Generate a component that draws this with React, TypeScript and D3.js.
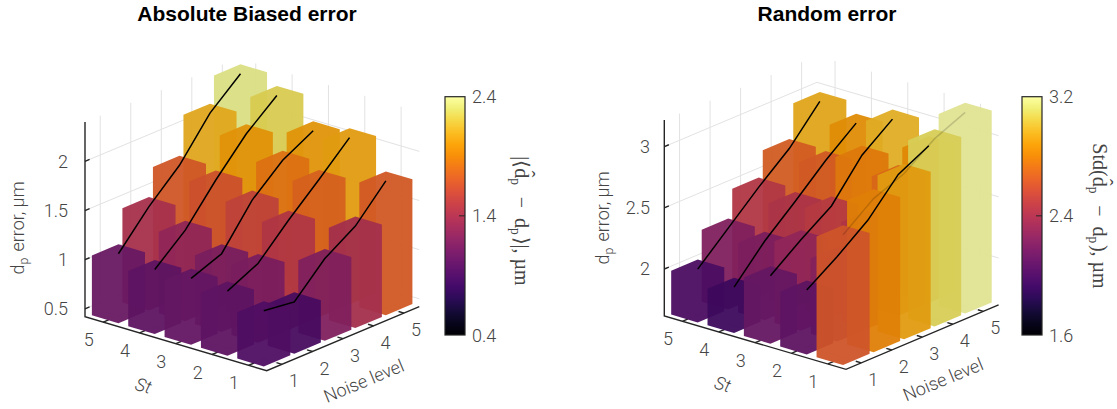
import React from "react";
import * as d3 from "d3";

const stLevels = [1, 2, 3, 4, 5];
const noiseLevels = [1, 2, 3, 4, 5];

// rows: St 1..5, columns: noise 1..5
const biasedSt1 = [0.91, 0.87, 1.18, 1.38, 1.71];
const biasedSt2 = [1.0, 1.15, 1.46, 1.745, 2.04];
const biasedSt3 = [1.02, 1.14, 1.555, 1.83, 2.0];
const biasedSt4 = [1.0, 1.27, 1.65, 1.99, 2.25];
const biasedSt5 = [1.05, 1.4, 1.69, 2.09, 2.36];

const randomSt1 = [2.62, 2.81, 2.91, 3.09, 3.2];
const randomSt2 = [2.08, 2.25, 2.44, 2.71, 2.84];
const randomSt3 = [2.11, 2.3, 2.47, 2.78, 2.97];
const randomSt4 = [1.93, 2.2, 2.42, 2.65, 2.85];
const randomSt5 = [1.99, 2.22, 2.45, 2.66, 2.94];

const biasedZTicks = [0.5, 1, 1.5, 2];
const randomZTicks = [2, 2.5, 3];

const INK = "#454545";
const SANS = "'Liberation Sans', Arial, sans-serif";
const LIGHT = "Roboto, 'Liberation Sans', sans-serif";
const SERIF = "'Liberation Serif', serif";
const line2 = d3.line<[number, number]>();

type Cfg = {
  title: string;
  titleX: number;
  rows: number[][];
  corner: [number, number];
  sDy: number;
  nDy: number;
  zPx: number;
  zMin: number;
  zMax: number;
  zBase: number;
  zTicks: number[];
  clim: [number, number];
  climLabels: string[];
  barX: number;
  zLabelX: number;
  zLabelY: number;
  zTickX: number;
  cbLabel: React.ReactNode;
  fadedSt?: number;
};

function Sub({ children, dyUp = 4 }: { children: string; dyUp?: number }) {
  return (
    <>
      <tspan dy={dyUp} fontSize="0.68em">{children}</tspan>
      <tspan dy={-dyUp}>{"\u200a"}</tspan>
    </>
  );
}

function Panel({ cfg }: { cfg: Cfg }) {
  const { corner, zBase } = cfg;
  const xS = d3.scaleLinear().domain([0.5, 5.5]).range([0, -181.7]);
  const xN = d3.scaleLinear().domain([0.5, 5.5]).range([0, 152.6]);
  const yS = d3.scaleLinear().domain([0.5, 5.5]).range([0, -5 * cfg.sDy]);
  const yN = d3.scaleLinear().domain([0.5, 5.5]).range([0, -5 * cfg.nDy]);
  const yZ = d3.scaleLinear().domain([cfg.zMin, cfg.zMax]).range([0, -(cfg.zMax - cfg.zMin) * cfg.zPx]);
  const P = (n: number, s: number, z: number): [number, number] => [
    corner[0] + xN(n) + xS(s),
    corner[1] + yN(n) + yS(s) + yZ(z),
  ];
  const color = d3.scaleSequential(d3.interpolateInferno).domain(cfg.clim);
  const wS = 0.73 / 2;
  const wN = 0.87 / 2;

  const cells: { s: number; n: number; v: number }[] = [];
  [...stLevels].reverse().forEach((s) => {
    [...noiseLevels].reverse().forEach((n) => {
      cells.push({ s, n, v: cfg.rows[s - 1][n - 1] });
    });
  });

  const shade = (v: number, k: number) => {
    const c = d3.rgb(color(Math.min(v, cfg.clim[1])));
    return d3.rgb(c.r * k, c.g * k, c.b * k).formatHex();
  };

  const cbY = d3.scaleLinear().domain(cfg.clim).range([335, 96.7]);
  const gradId = "grad" + cfg.barX;
  const stops = d3.range(0, 1.0001, 0.05);
  const cbMid = (cfg.clim[0] + cfg.clim[1]) / 2;

  const GRID = "#e2e2e2";
  return (
    <g>
      <text x={cfg.titleX} y={21} textAnchor="middle" fontFamily={SANS} fontWeight="bold" fontSize={21} fill="#000">
        {cfg.title}
      </text>
      {/* wall & floor grid */}
      <g stroke={GRID} strokeWidth={1} fill="none">
        {cfg.zTicks.map((z) => (
          <path key={z} d={line2([P(0.5, 5.5, z), P(5.5, 5.5, z), P(5.5, 0.5, z)]) as string} />
        ))}
        {noiseLevels.map((n) => (
          <path key={"n" + n} d={line2([P(n, 0.5, cfg.zMin), P(n, 5.5, cfg.zMin), P(n, 5.5, cfg.zMax)]) as string} />
        ))}
        {stLevels.map((s) => (
          <path key={"s" + s} d={line2([P(0.5, s, cfg.zMin), P(5.5, s, cfg.zMin), P(5.5, s, cfg.zMax)]) as string} />
        ))}
      </g>
      {/* axis lines */}
      <g stroke="#262626" strokeWidth={1.4} fill="none">
        <path d={line2([P(0.5, 5.5, cfg.zMax), P(0.5, 5.5, cfg.zMin), P(0.5, 0.5, cfg.zMin), P(5.5, 0.5, cfg.zMin)]) as string} />
        {stLevels.map((s) => (
          <path key={s} d={line2([P(0.5, s, cfg.zMin), P(0.68, s, cfg.zMin)]) as string} />
        ))}
        {noiseLevels.map((n) => (
          <path key={n} d={line2([P(n, 0.5, cfg.zMin), P(n, 0.65, cfg.zMin)]) as string} />
        ))}
        {cfg.zTicks.map((z) => (
          <path key={z} d={line2([P(0.5, 5.5, z), P(0.65, 5.5, z)]) as string} />
        ))}
      </g>
      {/* bars: each box composited as one solid, slightly see-through shape */}
      {cells.map(({ s, n, v }) => {
        const t = Math.max(v, zBase);
        const outline = line2([
          P(n - wN, s - wS, zBase),
          P(n + wN, s - wS, zBase),
          P(n + wN, s - wS, t),
          P(n + wN, s + wS, t),
          P(n - wN, s + wS, t),
          P(n - wN, s + wS, zBase),
        ]) + "Z";
        return <path key={s + "-" + n} d={outline} fill={shade(v, 0.89)} fillOpacity={0.95} stroke="none" />;
      })}
      {/* lines along noise, one per St */}
      {stLevels.map((s) => (
        <path
          key={"l" + s}
          d={line2(noiseLevels.map((n) => P(n, s, cfg.rows[s - 1][n - 1]))) as string}
          fill="none"
          stroke="#000"
          strokeWidth={1.5}
          strokeOpacity={cfg.fadedSt === s ? 0.16 : 1}
        />
      ))}
      {/* labels */}
      <g fontFamily={LIGHT} fontWeight={300} fontSize={18} fill={INK}>
        {stLevels.map((s) => {
          const p = P(0.5, s, cfg.zMin);
          return <text key={s} x={p[0] - 14.5} y={p[1] + 24} textAnchor="middle">{s}</text>;
        })}
        {noiseLevels.map((n) => {
          const p = P(n, 0.5, cfg.zMin);
          return <text key={n} x={p[0] + 12} y={p[1] + 23} textAnchor="middle">{n}</text>;
        })}
        {cfg.zTicks.map((z) => {
          const p = P(0.5, 5.5, z);
          return <text key={z} x={cfg.zTickX} y={p[1] + 6.5} textAnchor="end">{z}</text>;
        })}
        <text transform={`translate(${corner[0] - 125},${corner[1] + 21}) rotate(16)`} textAnchor="middle" fontStyle="italic">St</text>
        <text transform={`translate(${corner[0] + 99.5},${corner[1] + 16}) rotate(-22.5)`} textAnchor="middle">Noise level</text>
        <text transform={`translate(${cfg.zLabelX},${cfg.zLabelY}) rotate(-90)`} textAnchor="middle">
          d<Sub>p</Sub> error, µm
        </text>
      </g>
      {/* colour bar */}
      <defs>
        <linearGradient id={gradId} x1="0" y1="1" x2="0" y2="0">
          {stops.map((o) => (
            <stop key={o} offset={o} stopColor={d3.interpolateInferno(o)} />
          ))}
        </linearGradient>
      </defs>
      <rect x={cfg.barX} y={96.7} width={20} height={238.3} fill={`url(#${gradId})`} stroke="#262626" strokeWidth={1.2} />
      <path d={`M${cfg.barX + 14},${cbY(cbMid)}H${cfg.barX + 20}`} stroke="#262626" strokeWidth={1} />
      <g fontFamily={LIGHT} fontWeight={300} fontSize={18} fill={INK}>
        {cfg.climLabels.map((l, i) => (
          <text key={l} x={cfg.barX + 27} y={cbY(cfg.clim[0] + (i * (cfg.clim[1] - cfg.clim[0])) / 2) + 6.5}>{l}</text>
        ))}
      </g>
      {cfg.cbLabel}
    </g>
  );
}

const biasedCfg: Cfg = {
  title: "Absolute Biased error",
  titleX: 247,
  rows: [biasedSt1, biasedSt2, biasedSt3, biasedSt4, biasedSt5],
  corner: [266.7, 370.7],
  sDy: 10.8,
  nDy: 12.8,
  zPx: 98.3,
  zMin: 0.42,
  zMax: 2.4,
  zBase: 0.44,
  zTicks: biasedZTicks,
  clim: [0.4, 2.4],
  climLabels: ["0.4", "1.4", "2.4"],
  barX: 445,
  zLabelX: 24,
  zLabelY: 228,
  zTickX: 68,
  cbLabel: (
    <text transform="translate(515,221) rotate(90)" textAnchor="middle" fontFamily={SERIF} fontSize={20} fill={INK}>
      |⟨d̂<Sub>p</Sub>{"\u2002−\u2002"}d<Sub>p</Sub>⟩|, µm
    </text>
  ),
};

const randomCfg: Cfg = {
  title: "Random error",
  titleX: 827,
  rows: [randomSt1, randomSt2, randomSt3, randomSt4, randomSt5],
  corner: [846, 369.3],
  sDy: 10.67,
  nDy: 12.87,
  zPx: 122.3,
  zMin: 1.616,
  zMax: 3.218,
  zBase: 1.632,
  zTicks: randomZTicks,
  clim: [1.6, 3.2],
  climLabels: ["1.6", "2.4", "3.2"],
  barX: 1022,
  zLabelX: 609,
  zLabelY: 218,
  zTickX: 650,
  fadedSt: 1,
  cbLabel: (
    <text transform="translate(1093,216) rotate(90)" textAnchor="middle" fontFamily={SERIF} fontSize={20} fill={INK}>
      Std(d̂<Sub>p</Sub>{"\u2002−\u2002"}d<Sub>p</Sub>), µm
    </text>
  ),
};

export default function App() {
  return (
    <svg
      width={1117}
      height={409}
      viewBox="0 0 1117 409"
      style={{ position: "absolute", left: 0, top: 0, background: "#fff" }}
    >
      <Panel cfg={biasedCfg} />
      <Panel cfg={randomCfg} />
    </svg>
  );
}
